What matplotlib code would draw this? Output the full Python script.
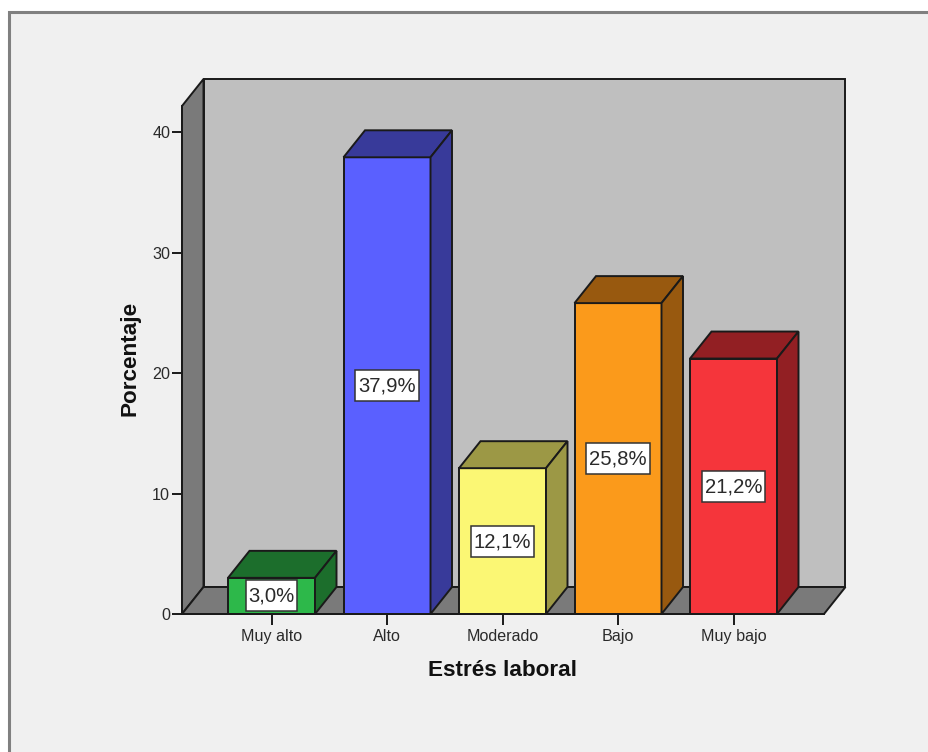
import matplotlib
matplotlib.use("Agg")
import matplotlib.pyplot as plt
from matplotlib.patches import Polygon, Rectangle

plt.rcParams['font.family'] = ['Liberation Sans', 'DejaVu Sans']

categorias = ["Muy alto", "Alto", "Moderado", "Bajo", "Muy bajo"]
porcentajes = [3.0, 37.9, 12.1, 25.8, 21.2]
etiquetas = ["3,0%", "37,9%", "12,1%", "25,8%", "21,2%"]
color_frente = ["#2db84a", "#5a60ff", "#fbf774", "#fb9a1b", "#f5353b"]
color_lado = ["#1c6e2c", "#383a9a", "#9c9845", "#98590f", "#921f23"]

W, H = 929, 752
PX_X = 115.5   # pixels per category
PX_Y = 12.05   # pixels per percentage point
ancho = 87 / PX_X
dx = 21.5 / PX_X
dy = 27 / PX_Y
borde = "#1a1a1a"
texto = "#2a2a2a"

fig = plt.figure(figsize=(W / 100, H / 100), dpi=100, facecolor="white")
fig.add_artist(Rectangle((8.5 / W, -0.01), 1.0, 1 - 12 / H + 0.01, transform=fig.transFigure,
                         facecolor="#f0f0f0", edgecolor="#808080", linewidth=2.2, zorder=-1))

# axes box is the front plane of the 3D frame
ax = fig.add_axes([182 / W, 1 - 614 / H, 642 / W, 508 / H])
ax.patch.set_alpha(0)
ax.set_xlim((182 - 271.5) / PX_X, (824 - 271.5) / PX_X)
ax.set_ylim(0, 508 / PX_Y)
x0, x1 = ax.get_xlim()
y0, y1 = ax.get_ylim()


def poly(pts, color, z=1):
    ax.add_patch(Polygon(pts, closed=True, facecolor=color, edgecolor=borde, linewidth=1.4,
                         joinstyle="miter", zorder=z, clip_on=False))


# walls and floor
poly([(x0 + dx, y0 + dy), (x1 + dx, y0 + dy), (x1 + dx, y1 + dy), (x0 + dx, y1 + dy)], "#bfbfbf")
poly([(x0, y0), (x0 + dx, y0 + dy), (x0 + dx, y1 + dy), (x0, y1)], "#7a7a7a")
poly([(x0, y0), (x1, y0), (x1 + dx, y0 + dy), (x0 + dx, y0 + dy)], "#7a7a7a")

# bars with a white value box at mid height
for i, v in enumerate(porcentajes):
    a = i - ancho / 2
    b = i + ancho / 2
    poly([(a, 0), (b, 0), (b, v), (a, v)], color_frente[i], 3)
    poly([(a, v), (b, v), (b + dx, v + dy), (a + dx, v + dy)], color_lado[i], 3)
    poly([(b, 0), (b + dx, dy), (b + dx, v + dy), (b, v)], color_lado[i], 3)
    caja_w = 12.7 * len(etiquetas[i]) / PX_X
    caja_h = 31 / PX_Y
    ax.add_patch(Rectangle((i - caja_w / 2, v / 2 - caja_h / 2), caja_w, caja_h, facecolor="white",
                           edgecolor="#333333", linewidth=1.1, zorder=5))
    ax.text(i, v / 2 + 1.5 / PX_Y, etiquetas[i], ha="center", va="center_baseline", fontsize=14.6,
            color=texto, zorder=6)

for lado in ["top", "right"]:
    ax.spines[lado].set_visible(False)
for lado in ["left", "bottom"]:
    ax.spines[lado].set_linewidth(1.4)
    ax.spines[lado].set_color(borde)
    ax.spines[lado].set_zorder(4)

ax.set_xticks(range(len(categorias)))
ax.set_xticklabels(categorias)
ax.set_yticks([0, 10, 20, 30, 40])
ax.tick_params(axis="x", length=8, width=1.4, color=borde, labelsize=11.6, labelcolor=texto, pad=3)
ax.tick_params(axis="y", length=7.5, width=1.4, color=borde, labelsize=11.6, labelcolor=texto, pad=1)

ax.set_xlabel("Estrés laboral", fontsize=16.2, fontweight="bold", color="#111111", va="center")
ax.xaxis.set_label_coords((502.5 - 182) / 642, -56 / 508)
ax.set_ylabel("Porcentaje", fontsize=16.2, fontweight="bold", color="#111111", va="center")
ax.yaxis.set_label_coords((129.5 - 182) / 642, (614 - 358) / 508)

fig.savefig("out.png", dpi=100)
